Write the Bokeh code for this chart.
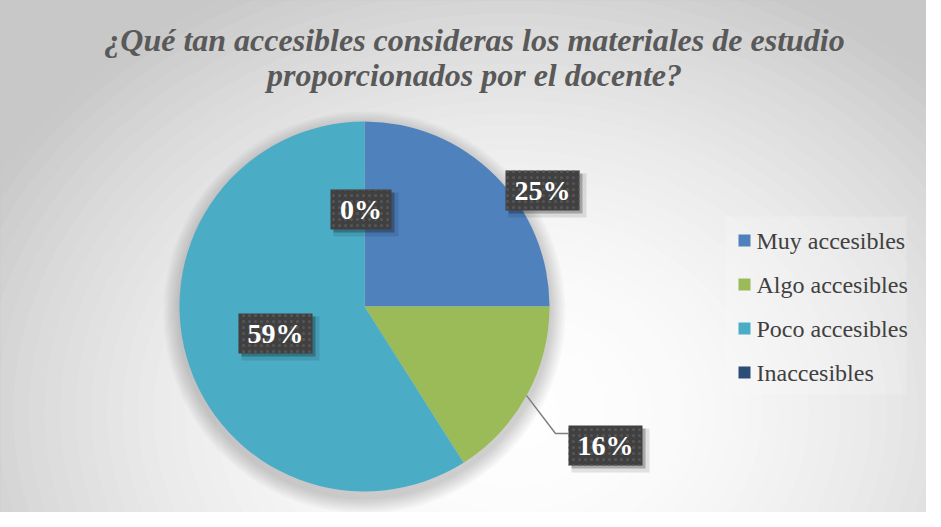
import math
from bokeh.plotting import figure
from bokeh.models import Range1d, ColumnDataSource
from bokeh.core.properties import value
from bokeh.embed import file_html
from bokeh.resources import INLINE

# ---------------- data ----------------
title_lines = ["¿Qué tan accesibles consideras los materiales de estudio",
               "proporcionados por el docente?"]
categories = ["Muy accesibles", "Algo accesibles", "Poco accesibles", "Inaccesibles"]
percents = [25, 16, 59, 0]
colors = ["#4f81bd", "#9bbb59", "#4bacc6", "#2c4d75"]
label_texts = [f"{v}%" for v in percents]

# ---------------- layout ----------------
W, H = 926, 512
CX, CY, R = 364, 206, 185
label_offsets = [(178, 116), (241, -139), (-89, -27), (-3.5, 97)]
leader_flags = [False, True, False, False]
elbow_offset = (191, -127)
BOX_H = 40
TITLE_X = 474
TITLE_Y = [473, 438]
LEG_X, LEG_Y0, LEG_DY = 744, 272, 44

p = figure(width=W, height=H, x_range=Range1d(0, W), y_range=Range1d(0, H),
           output_backend="svg", toolbar_location=None, min_border=0,
           x_axis_type=None, y_axis_type=None)
p.grid.visible = False
p.outline_line_color = "#c4c4c4"
p.background_fill_color = "#c8c8c8"
p.border_fill_color = "#c8c8c8"

# background radial gradient (decoration)
N = 50
gx, gy, gw, gh, gc = [], [], [], [], []
for k in range(N):
    t = 1.3 * (1 - k / N)
    c = int(round(max(200, 254 - 54 * t * t)))
    gx.append(512); gy.append(100)
    gw.append(2 * 600 * t); gh.append(2 * 480 * t)
    gc.append("#%02x%02x%02x" % (c, c, c))
p.ellipse(x=gx, y=gy, width=gw, height=gh, fill_color=gc, line_color=None)

# legend panel
p.quad(left=725, right=906, top=296, bottom=118, fill_color="#ffffff",
       fill_alpha=0.18, line_color=None)

# pie shadow
for k in range(8):
    p.circle(x=CX, y=CY - 6, radius=R + 2 + 2 * k, fill_color="black",
             fill_alpha=0.025, line_color=None)

# wedges
starts, ends = [], []
cum = 0
for v in percents:
    starts.append(math.pi / 2 - 2 * math.pi * cum / 100)
    cum += v
    ends.append(math.pi / 2 - 2 * math.pi * cum / 100)
idx = [i for i, v in enumerate(percents) if v > 0]
src = ColumnDataSource(dict(start=[starts[i] for i in idx], end=[ends[i] for i in idx],
                            color=[colors[i] for i in idx], cat=[categories[i] for i in idx]))
p.wedge(x=CX, y=CY, radius=R, start_angle="start", end_angle="end",
        direction="clock", fill_color="color", line_color=None, source=src)

# labels
lx, ly, lw = [], [], []
for i, txt in enumerate(label_texts):
    ox, oy = label_offsets[i]
    lx.append(CX + ox); ly.append(CY + oy); lw.append(35 + 13 * len(txt))

for i in range(len(label_texts)):
    if leader_flags[i]:
        m = (starts[i] + ends[i]) / 2
        px, py = CX + R * math.cos(m), CY + R * math.sin(m)
        ex, ey = CX + elbow_offset[0], CY + elbow_offset[1]
        p.line(x=[px, ex, lx[i] - lw[i] / 2], y=[py, ey, ey],
               line_color="#7f7f7f", line_width=1.5)

p.rect(x=[x + 5 for x in lx], y=[y - 5 for y in ly], width=[w + 4 for w in lw],
       height=BOX_H + 4, fill_color="black", fill_alpha=0.10, line_color=None)
p.rect(x=[x + 3 for x in lx], y=[y - 3 for y in ly], width=lw, height=BOX_H,
       fill_color="black", fill_alpha=0.25, line_color=None)
p.rect(x=lx, y=ly, width=lw, height=BOX_H, fill_color="#404040", line_color=None,
       hatch_pattern="dot", hatch_color="#565656", hatch_scale=6, hatch_weight=1)
p.text(x=lx, y=ly, text=label_texts, text_color="white",
       text_font=value("Liberation Serif"), text_font_style="bold",
       text_font_size="28px", text_align="center", text_baseline="middle")

# title
p.text(x=[TITLE_X, TITLE_X], y=TITLE_Y, text=title_lines, text_color="#595959",
       text_font=value("Liberation Serif"), text_font_style="bold italic",
       text_font_size="32px", text_align="center", text_baseline="alphabetic")

# legend
leg_y = [LEG_Y0 - i * LEG_DY for i in range(len(categories))]
p.scatter(x=[LEG_X] * len(categories), y=leg_y, marker="square", size=12,
          fill_color=colors, line_color=None)
p.text(x=[LEG_X + 12] * len(categories), y=leg_y, text=categories, text_color="#404040",
       text_font=value("Liberation Serif"), text_font_size="24px",
       text_align="left", text_baseline="middle")

open("out.html", "w").write(file_html(p, INLINE))
